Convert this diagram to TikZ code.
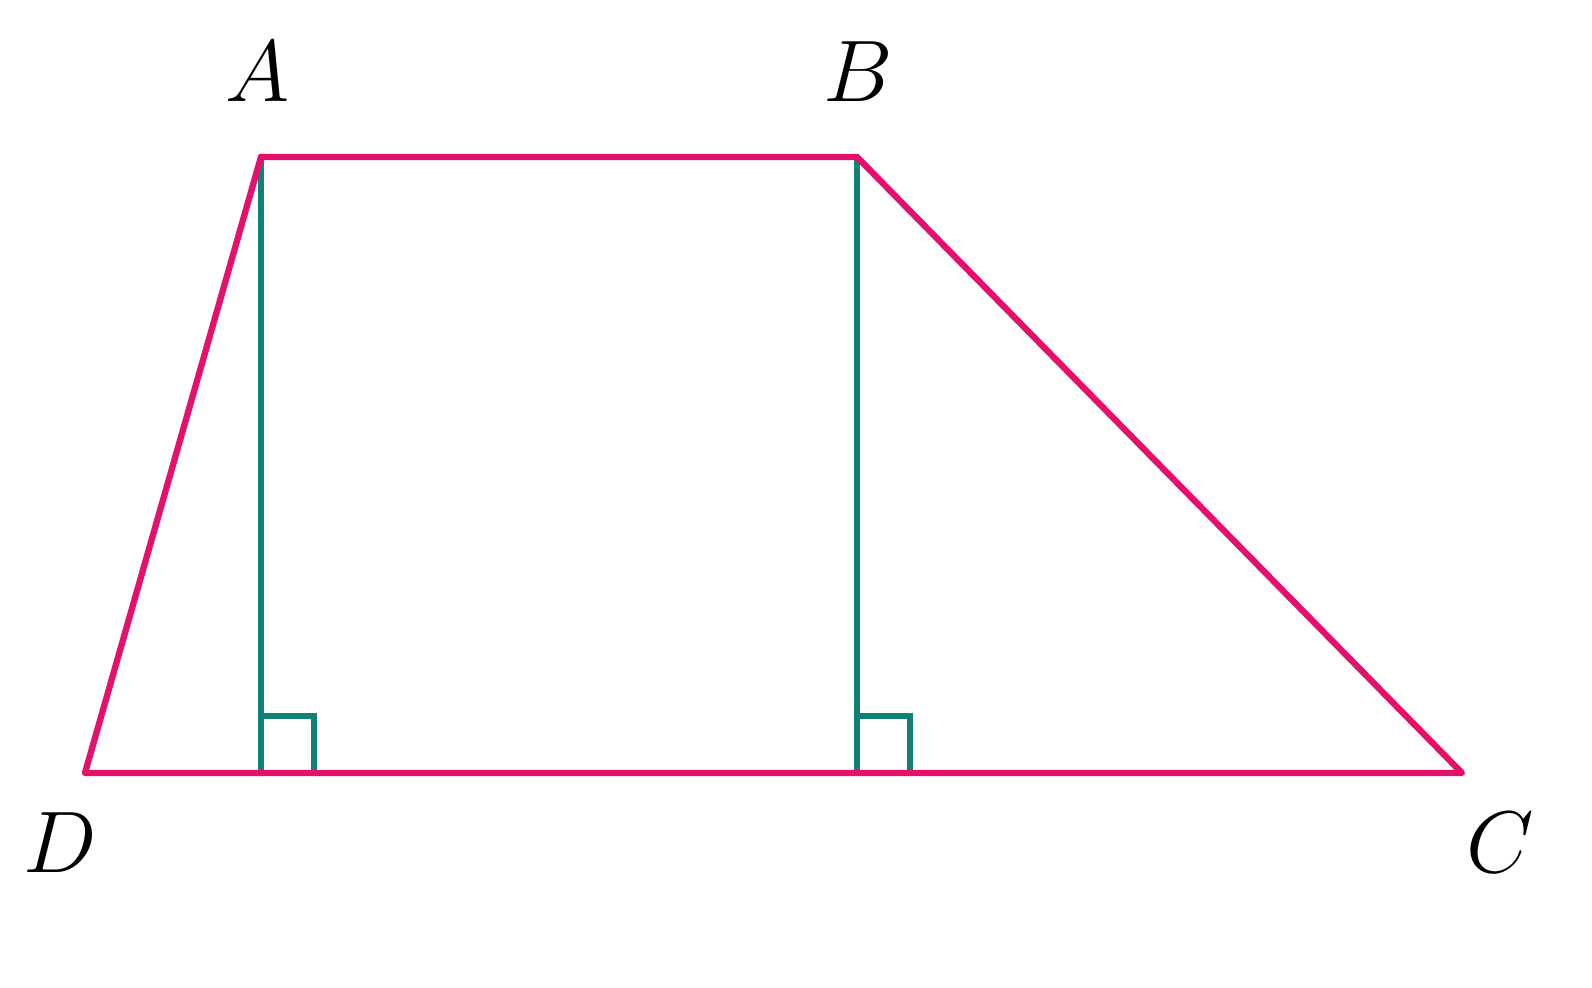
\documentclass[tikz,border=0pt]{standalone}
\usepackage{amsmath}
\usepackage{xcolor}
\usetikzlibrary{calc}
\definecolor{edgecol}{HTML}{E5106C}
\definecolor{heightcol}{HTML}{118077}
\tikzset{
    side/.style={draw=edgecol, line width=1.8pt, line join=round, line cap=round},
    height/.style={draw=heightcol, line width=1.8pt, line cap=round},
    lbl/.style={font=\fontsize{25}{30}\selectfont}
}
\begin{document}
\begin{tikzpicture}
    \useasboundingbox (0,0) rectangle (15.92,9.88);
    \coordinate (A) at (2.61,8.31);
    \coordinate (B) at (8.57,8.31);
    \coordinate (C) at (14.62,2.15);
    \coordinate (D) at (0.85,2.15);
    \coordinate (H1) at (2.61,2.15);
    \coordinate (H2) at (8.57,2.15);

    \draw[height] (A) -- (H1);
    \draw[height] (B) -- (H2);
    \draw[height] ($(H1)+(0,0.57)$) -- ++(0.53,0) -- ++(0,-0.57);
    \draw[height] ($(H2)+(0,0.57)$) -- ++(0.53,0) -- ++(0,-0.57);

    \draw[side] (A) -- (B) -- (C) -- (D) -- cycle;

    \node[lbl] (lA) at (2.58,9.16) {$A$};
    \node[lbl] (lB) at (8.58,9.16) {$B$};
    \node[lbl] (lD) at (0.60,1.45) {$D$};
    \node[lbl] (lC) at (15.00,1.45) {$C$};
  \end{tikzpicture}
\end{document}
